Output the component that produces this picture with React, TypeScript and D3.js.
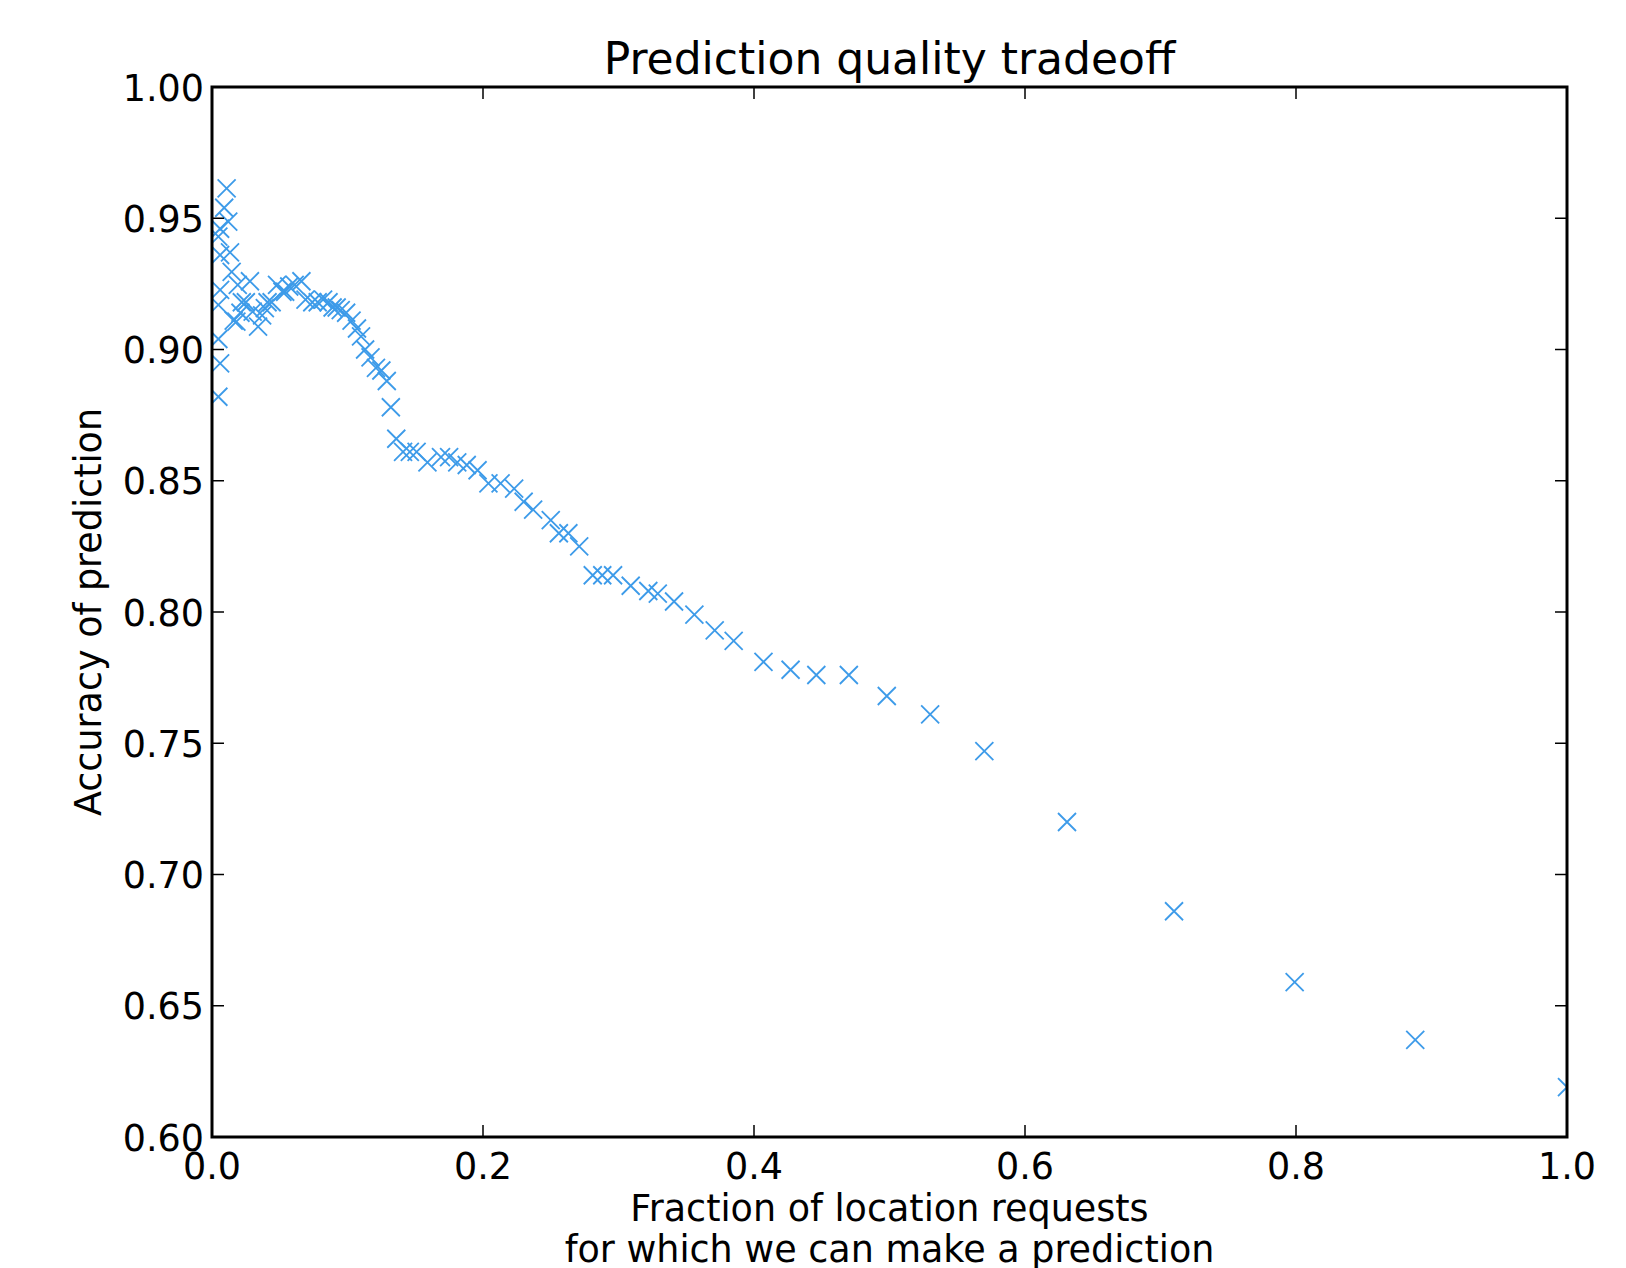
import React, { useEffect, useRef } from 'react';
import * as d3 from 'd3';

// fraction of requests covered (x) vs accuracy (y)
const coverage = [
  0.0108, 0.009, 0.012, 0.006, 0.0047, 0.0133, 0.006, 0.0145, 0.006, 0.0047,
  0.019, 0.028, 0.022, 0.018, 0.034, 0.030, 0.039, 0.048, 0.044, 0.054,
  0.061, 0.066, 0.0047, 0.006, 0.0047, 0.025, 0.016, 0.021, 0.037, 0.041,
  0.052, 0.057, 0.069, 0.074, 0.078, 0.082, 0.086, 0.089, 0.092, 0.095,
  0.099, 0.103, 0.107, 0.110, 0.113, 0.117, 0.121, 0.125, 0.129, 0.132,
  0.136, 0.141, 0.146, 0.151, 0.159, 0.169, 0.175, 0.181, 0.188, 0.196,
  0.204, 0.213, 0.223, 0.230, 0.237, 0.250, 0.256, 0.263, 0.271, 0.281,
  0.288, 0.296, 0.309, 0.322, 0.329, 0.341, 0.356, 0.371, 0.385, 0.407,
  0.427, 0.446, 0.470, 0.498, 0.530, 0.570, 0.631, 0.710, 0.799, 0.888,
  1.0,
];
const accuracy = [
  0.9614, 0.954, 0.9487, 0.946, 0.943, 0.937, 0.936, 0.9296, 0.9227, 0.917,
  0.9246, 0.926, 0.918, 0.9106, 0.9087, 0.9144, 0.9158, 0.9246, 0.918, 0.922,
  0.9246, 0.926, 0.904, 0.8947, 0.882, 0.918, 0.911, 0.914, 0.913, 0.918,
  0.922, 0.924, 0.919, 0.918, 0.918, 0.919, 0.918, 0.916, 0.916, 0.915,
  0.914, 0.911, 0.908, 0.905, 0.900, 0.897, 0.893, 0.892, 0.888, 0.878,
  0.866, 0.861, 0.861, 0.861, 0.857, 0.859, 0.859, 0.857, 0.856, 0.854,
  0.849, 0.849, 0.847, 0.842, 0.839, 0.835, 0.830, 0.830, 0.825, 0.814,
  0.814, 0.814, 0.810, 0.808, 0.807, 0.804, 0.799, 0.793, 0.789, 0.781,
  0.778, 0.776, 0.776, 0.768, 0.761, 0.747, 0.720, 0.686, 0.659, 0.637,
  0.619,
];

const xTicks = [0.0, 0.2, 0.4, 0.6, 0.8, 1.0];
const yTicks = [0.6, 0.65, 0.7, 0.75, 0.8, 0.85, 0.9, 0.95, 1.0];

const title = 'Prediction quality tradeoff';
const xLabel = ['Fraction of location requests', 'for which we can make a prediction'];
const yLabel = 'Accuracy of prediction';

export default function App() {
  const svgRef = useRef<SVGSVGElement>(null);

  useEffect(() => {
    if (!svgRef.current) return;
    const svg = d3.select(svgRef.current);
    svg.selectAll('*').remove();

    const left = 212, right = 1567, top = 87, bottom = 1137;
    const font = 'DejaVu Sans, sans-serif';
    const fs = 36.5;

    const x = d3.scaleLinear().domain([0, 1]).range([left, right]);
    const y = d3.scaleLinear().domain([0.6, 1.0]).range([bottom, top]);

    const data = coverage.map((c, i) => ({ x: c, y: accuracy[i] }));

    // markers, clipped to axes
    svg.append('clipPath').attr('id', 'plotclip')
      .append('rect')
      .attr('x', left).attr('y', top)
      .attr('width', right - left).attr('height', bottom - top);

    const s = 9;
    svg.append('g')
      .attr('clip-path', 'url(#plotclip)')
      .selectAll('path')
      .data(data)
      .enter()
      .append('path')
      .attr('d', d => {
        const cx = x(d.x), cy = y(d.y);
        return `M${cx - s},${cy - s}L${cx + s},${cy + s}M${cx - s},${cy + s}L${cx + s},${cy - s}`;
      })
      .attr('stroke', '#3d9be9')
      .attr('stroke-width', 1.8)
      .attr('fill', 'none');

    const tickLen = 12;
    const ticks = svg.append('g').attr('stroke', '#000').attr('stroke-width', 1.5);
    xTicks.forEach(t => {
      ticks.append('line').attr('x1', x(t)).attr('x2', x(t)).attr('y1', bottom).attr('y2', bottom - tickLen);
      ticks.append('line').attr('x1', x(t)).attr('x2', x(t)).attr('y1', top).attr('y2', top + tickLen);
    });
    yTicks.forEach(t => {
      ticks.append('line').attr('x1', left).attr('x2', left + tickLen).attr('y1', y(t)).attr('y2', y(t));
      ticks.append('line').attr('x1', right).attr('x2', right - tickLen).attr('y1', y(t)).attr('y2', y(t));
    });

    svg.append('rect')
      .attr('x', left).attr('y', top)
      .attr('width', right - left).attr('height', bottom - top)
      .attr('fill', 'none').attr('stroke', '#000').attr('stroke-width', 3);

    svg.append('g')
      .selectAll('text')
      .data(xTicks)
      .enter()
      .append('text')
      .attr('x', d => x(d))
      .attr('y', bottom + 42)
      .attr('text-anchor', 'middle')
      .attr('font-family', font)
      .attr('font-size', fs)
      .text(d => d3.format('.1f')(d));

    svg.append('g')
      .selectAll('text')
      .data(yTicks)
      .enter()
      .append('text')
      .attr('x', left - 8)
      .attr('y', d => y(d) + 13.5)
      .attr('text-anchor', 'end')
      .attr('font-family', font)
      .attr('font-size', fs)
      .text(d => d3.format('.2f')(d));

    svg.append('text')
      .attr('x', (left + right) / 2)
      .attr('y', 74)
      .attr('text-anchor', 'middle')
      .attr('font-family', font)
      .attr('font-size', 44)
      .text(title);

    xLabel.forEach((line, i) => {
      svg.append('text')
        .attr('x', (left + right) / 2)
        .attr('y', 1221 + i * 41)
        .attr('text-anchor', 'middle')
        .attr('font-family', font)
        .attr('font-size', fs)
        .text(line);
    });

    svg.append('text')
      .attr('transform', `translate(101,${(top + bottom) / 2}) rotate(-90)`)
      .attr('text-anchor', 'middle')
      .attr('font-family', font)
      .attr('font-size', fs)
      .text(yLabel);
  }, []);

  return (
    <div style={{ position: 'absolute', left: 0, top: 0, background: '#fff' }}>
      <svg ref={svgRef} width={1626} height={1268} style={{ display: 'block' }} />
    </div>
  );
}
